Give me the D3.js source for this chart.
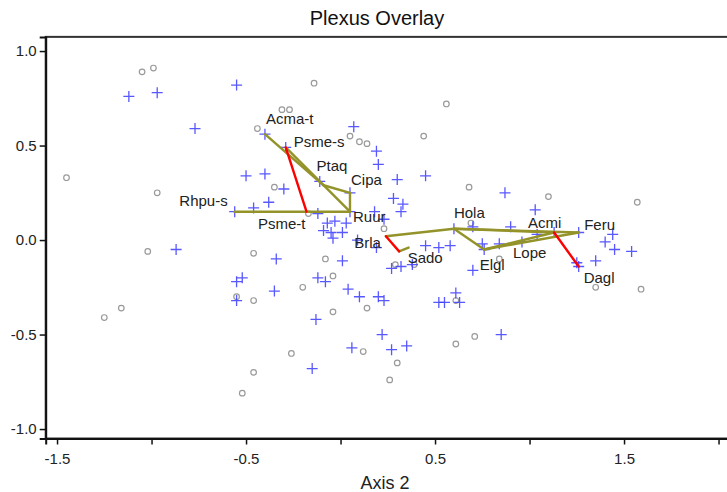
<!DOCTYPE html>
<html>
<head>
<meta charset="utf-8">
<script src="https://cdn.jsdelivr.net/npm/d3@7"></script>
<style>
  body { margin: 0; background: #fff; }
  svg { display: block; font-family: Arial, "Liberation Sans", sans-serif; }
</style>
</head>
<body>
<div id="chart"></div>
<script>
const plusColor = "#3b3bff";   // crosses
const circleColor = "#9a9a9a"; // open circles
const oliveColor = "#93932a";  // plexus links
const redColor = "#ff0000";    // red links
const textColor = "#222222";

// crosses (Axis 2, Axis 1)
const plusPoints = [
  [-1.12,0.76],[-0.97,0.78],[-0.55,0.82],[-0.77,0.59],[-0.50,0.34],[-0.40,0.35],[-0.56,0.15],[-0.46,0.17],
  [-0.38,0.20],[-0.30,0.27],[-0.40,0.56],[-0.29,0.49],[0.07,0.60],[0.19,0.47],[0.20,0.40],[0.30,0.32],
  [0.45,0.34],[-0.11,0.31],[0.05,0.25],[-0.12,0.14],[0.18,0.15],[0.28,0.22],[0.33,0.19],[0.32,0.15],
  [0.23,0.11],[-0.03,0.10],[0.03,0.09],[-0.07,0.09],[-0.09,0.05],[-0.05,0.04],[0.01,0.04],[-0.04,0.01],
  [0.09,0.00],[0.19,-0.04],[0.01,-0.11],[-0.34,-0.10],[-0.12,-0.20],[-0.08,-0.22],[-0.52,-0.20],[-0.55,-0.22],
  [-0.55,-0.32],[-0.87,-0.05],[-0.35,-0.27],[0.04,-0.26],[0.10,-0.30],[0.20,-0.30],[0.23,-0.32],[-0.13,-0.42],
  [-0.15,-0.68],[0.06,-0.57],[0.22,-0.50],[0.27,-0.58],[0.35,-0.56],[0.27,-0.15],[0.32,-0.14],[0.38,-0.13],
  [0.45,-0.03],[0.52,-0.04],[0.58,-0.03],[0.52,-0.33],[0.55,-0.33],[0.61,-0.28],[0.63,-0.33],[0.70,-0.16],
  [0.85,-0.50],[0.60,0.06],[0.70,0.07],[0.90,0.07],[0.87,0.25],[1.03,0.16],[1.04,0.03],[1.13,0.04],
  [1.26,0.04],[1.44,0.03],[1.40,-0.01],[1.45,-0.05],[1.54,-0.06],[1.35,-0.11],[1.26,-0.14],[1.25,-0.12],
  [0.76,-0.05],[0.75,-0.02],[0.84,-0.02],[0.96,-0.01],[0.05,0.15]
];

// open circles
const circlePoints = [
  [-1.05,0.89],[-0.99,0.91],[-1.45,0.33],[-0.97,0.25],[-1.02,-0.06],[-0.55,-0.30],[-1.25,-0.41],[-1.16,-0.36],
  [-0.52,-0.81],[-0.14,0.83],[-0.31,0.69],[-0.27,0.69],[0.56,0.72],[-0.44,0.59],[0.05,0.55],[0.10,0.52],
  [0.14,0.51],[0.44,0.55],[-0.35,0.28],[-0.17,0.14],[0.23,0.06],[0.68,0.28],[1.10,0.23],[1.57,0.20],
  [0.69,0.09],[0.84,-0.10],[1.35,-0.25],[1.59,-0.26],[0.71,-0.51],[0.61,-0.55],[-0.46,-0.07],[-0.08,-0.10],
  [-0.04,-0.19],[-0.20,-0.25],[-0.46,-0.32],[-0.04,-0.38],[0.14,-0.36],[-0.26,-0.60],[0.12,-0.59],[0.30,-0.65],
  [0.26,-0.74],[-0.46,-0.70],[0.61,-0.32],[0.29,-0.13],[0.39,-0.13]
];

// species of the plexus
const speciesNames = ["Rhpu-s","Acma-t","Psme-s","Psme-t","Ptaq","Cipa","Ruur","Brla","Sado","","Hola","Elgl","Lope","Acmi","Feru","Dagl"];
const speciesX = [-0.56,-0.40,-0.29,-0.18,-0.09,0.05,0.05,0.24,0.31,0.36,0.60,0.76,0.96,1.13,1.26,1.26];
const speciesY = [0.15,0.56,0.49,0.15,0.29,0.25,0.15,0.02,-0.06,-0.04,0.06,-0.05,-0.01,0.04,0.04,-0.14];

const oliveLinks = [
  ["Rhpu-s","Ruur"],["Acma-t","Ptaq"],["Psme-s","Ruur"],["Ptaq","Cipa"],["Cipa","Ruur"],
  ["Brla","Hola"],["Sado",""],["Hola","Acmi"],["Hola","Feru"],["Hola","Elgl"],["Elgl","Acmi"],["Elgl","Feru"]
];
const redLinks = [["Psme-s","Psme-t"],["Brla","Sado"],["Acmi","Dagl"]];

const xTicks = [-1.5,-1.0,-0.5,0,0.5,1.0,1.5,2.0];
const xTickLabels = ["-1.5","","-0.5","","0.5","","1.5",""];
const yTicks = [-1.0,-0.5,0,0.5,1.0];
const yTickLabels = ["-1.0","-0.5","0.0","0.5","1.0"];

// label placement in pixels around each species point
const labelPos = {
  "Rhpu-s": [-7,-11,"end"], "Acma-t": [1,-15.5,"start"], "Psme-s": [8,-6,"start"],
  "Psme-t": [-1,12,"end"], "Ptaq": [-7,-19,"start"], "Cipa": [1,-13.5,"start"],
  "Ruur": [3,5.5,"start"], "Brla": [-5,6.5,"end"], "Sado": [8.5,6,"start"],
  "Hola": [0,-16,"start"], "Elgl": [-4.5,15,"start"], "Lope": [-9,10.5,"start"],
  "Acmi": [-26,-10,"start"], "Feru": [5.5,-7.7,"start"], "Dagl": [5,11,"start"]
};

const width = 727, height = 492;
const svg = d3.select('#chart').append('svg')
  .attr('width', width)
  .attr('height', height);

const x = d3.scaleLinear().domain([-1.56, 2.1]).range([45.7, 45.7 + 3.66 * 189]);
const y = d3.scaleLinear().domain([-1.05, 1.075]).range([438.5, 438.5 - 2.125 * 189]);

// title and axis label
svg.append('text')
  .attr('x', 377).attr('y', 25)
  .attr('text-anchor', 'middle')
  .attr('fill', '#111')
  .style('font-size', '20px')
  .text('Plexus Overlay');

svg.append('text')
  .attr('x', 385).attr('y', 489)
  .attr('text-anchor', 'middle')
  .attr('fill', textColor)
  .style('font-size', '18px')
  .text('Axis 2');

// points
svg.append('g').selectAll('circle')
  .data(circlePoints)
  .join('circle')
  .attr('cx', d => x(d[0]))
  .attr('cy', d => y(d[1]))
  .attr('r', 2.8)
  .attr('fill', 'none')
  .attr('stroke', circleColor)
  .attr('stroke-width', 1.2);

const cross = 5.5;
svg.append('g').selectAll('path')
  .data(plusPoints)
  .join('path')
  .attr('d', d => {
    const px = x(d[0]), py = y(d[1]);
    return `M${px - cross},${py}H${px + cross}M${px},${py - cross}V${py + cross}`;
  })
  .attr('stroke', plusColor)
  .attr('stroke-opacity', 0.85)
  .attr('stroke-width', 1.3);

// plexus links
const pos = {};
speciesNames.forEach((n, i) => { pos[n] = [speciesX[i], speciesY[i]]; });

const drawLinks = (links, color) => {
  svg.append('g').selectAll('line')
    .data(links)
    .join('line')
    .attr('x1', d => x(pos[d[0]][0]))
    .attr('y1', d => y(pos[d[0]][1]))
    .attr('x2', d => x(pos[d[1]][0]))
    .attr('y2', d => y(pos[d[1]][1]))
    .attr('stroke', color)
    .attr('stroke-width', 2.4)
    .attr('stroke-linecap', 'round');
};
drawLinks(oliveLinks, oliveColor);
drawLinks(redLinks, redColor);

// species labels
svg.append('g').selectAll('text')
  .data(speciesNames.filter(n => n !== ''))
  .join('text')
  .attr('x', n => x(pos[n][0]) + labelPos[n][0])
  .attr('y', n => y(pos[n][1]) + labelPos[n][1])
  .attr('dy', '0.35em')
  .attr('text-anchor', n => labelPos[n][2])
  .attr('fill', textColor)
  .style('font-size', '15px')
  .text(n => n);

// frame and axes
svg.append('rect')
  .attr('x', x(-1.56)).attr('y', y(1.075))
  .attr('width', x(2.1) - x(-1.56))
  .attr('height', y(-1.05) - y(1.075))
  .attr('fill', 'none')
  .attr('stroke', '#333')
  .attr('stroke-width', 2);

const xAxis = svg.append('g')
  .attr('transform', `translate(0,${y(-1.05)})`)
  .call(d3.axisBottom(x).tickValues(xTicks).tickSize(6).tickPadding(9)
    .tickFormat((d, i) => xTickLabels[i]));

const yAxis = svg.append('g')
  .attr('transform', `translate(${x(-1.56)},0)`)
  .call(d3.axisLeft(y).tickValues(yTicks).tickSize(6).tickPadding(3)
    .tickFormat((d, i) => yTickLabels[i]));

[xAxis, yAxis].forEach(ax => {
  ax.select('.domain').attr('stroke', '#111').attr('stroke-width', 2);
  ax.selectAll('.tick line').attr('stroke', '#111').attr('stroke-width', 1.5);
  ax.selectAll('.tick text')
    .attr('fill', textColor)
    .style('font-size', '15px')
    .style('font-family', 'Arial, "Liberation Sans", sans-serif');
});
</script>
</body>
</html>
